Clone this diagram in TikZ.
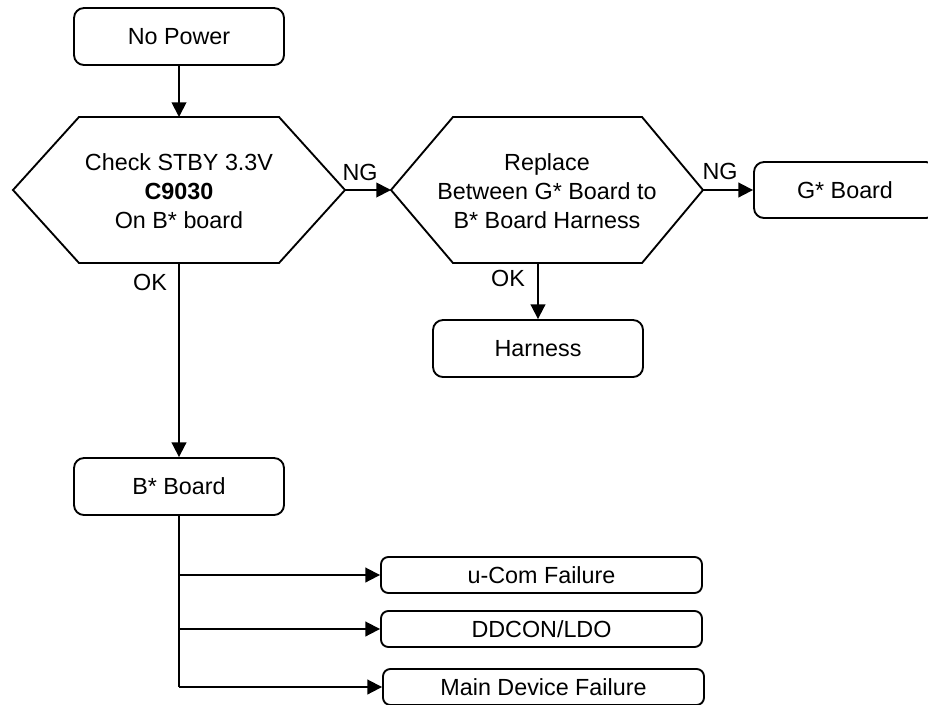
\documentclass[tikz,border=0pt]{standalone}
\usepackage{fontspec}
\setmainfont{Liberation Sans}
\usepackage{tikz}
\usetikzlibrary{arrows.meta}

\begin{document}
\begin{tikzpicture}[x=0.75pt,y=-0.75pt,>={Triangle[length=11pt,width=11pt]},line width=1.4pt,
  font=\fontsize{17.5pt}{21.75pt}\selectfont,
  stepbox/.style={draw,rounded corners=7.5pt,minimum width=157.5pt,minimum height=42.75pt,inner sep=0pt},
  failbox/.style={draw,rounded corners=5.5pt,minimum width=240.75pt,minimum height=27pt,inner sep=0pt},
  hextext/.style={align=center,inner sep=0pt},
  tag/.style={inner sep=0pt}]
\clip (0,0) rectangle (928,704);
\node[stepbox] (pwr) at (179,36.5) {No Power};
\coordinate (chkT) at (179,117);
\coordinate (chkB) at (179,263);
\coordinate (chkL) at (13,190);
\coordinate (chkR) at (345,190);
\draw (chkL) -- (79,117) -- (279,117) -- (chkR) -- (279,263) -- (79,263) -- cycle;
\node[hextext] (chk) at (179,191) {Check STBY 3.3V\\\textbf{C9030}\\On B* board};
\coordinate (repB) at (538,263);
\coordinate (repL) at (391,190);
\coordinate (repR) at (703,190);
\draw (repL) -- (453,117) -- (642,117) -- (repR) -- (642,263) -- (453,263) -- cycle;
\node[hextext] (rep) at (547,191) {Replace\\Between G* Board to\\B* Board Harness};
\node[stepbox,minimum width=136.5pt,minimum height=42pt] (gbd) at (845,190) {G* Board};
\node[stepbox] (hrn) at (538,348.5) {Harness};
\node[stepbox] (bbd) at (179,486.5) {B* Board};
\node[failbox] (ucom) at (541.5,575) {u-Com Failure};
\node[failbox] (ddc) at (541.5,629) {DDCON/LDO};
\node[failbox] (mdf) at (543.5,687) {Main Device Failure};
\node[tag] (ng1) at (360,172) {NG};
\node[tag] (ng2) at (720,171) {NG};
\node[tag] (ok1) at (150,282) {OK};
\node[tag] (ok2) at (508,278) {OK};
\draw[->] (pwr) -- (chkT);
\draw[->] (chkR) -- (repL);
\draw[->] (repR) -- (gbd);
\draw[->] (repB) -- (hrn);
\draw[->] (chkB) -- (bbd);
\draw (bbd.south) -- (bbd.south |- mdf.west);
\draw[->] (bbd.south |- ucom.west) -- (ucom);
\draw[->] (bbd.south |- ddc.west) -- (ddc);
\draw[->] (bbd.south |- mdf.west) -- (mdf);
\end{tikzpicture}
\end{document}
